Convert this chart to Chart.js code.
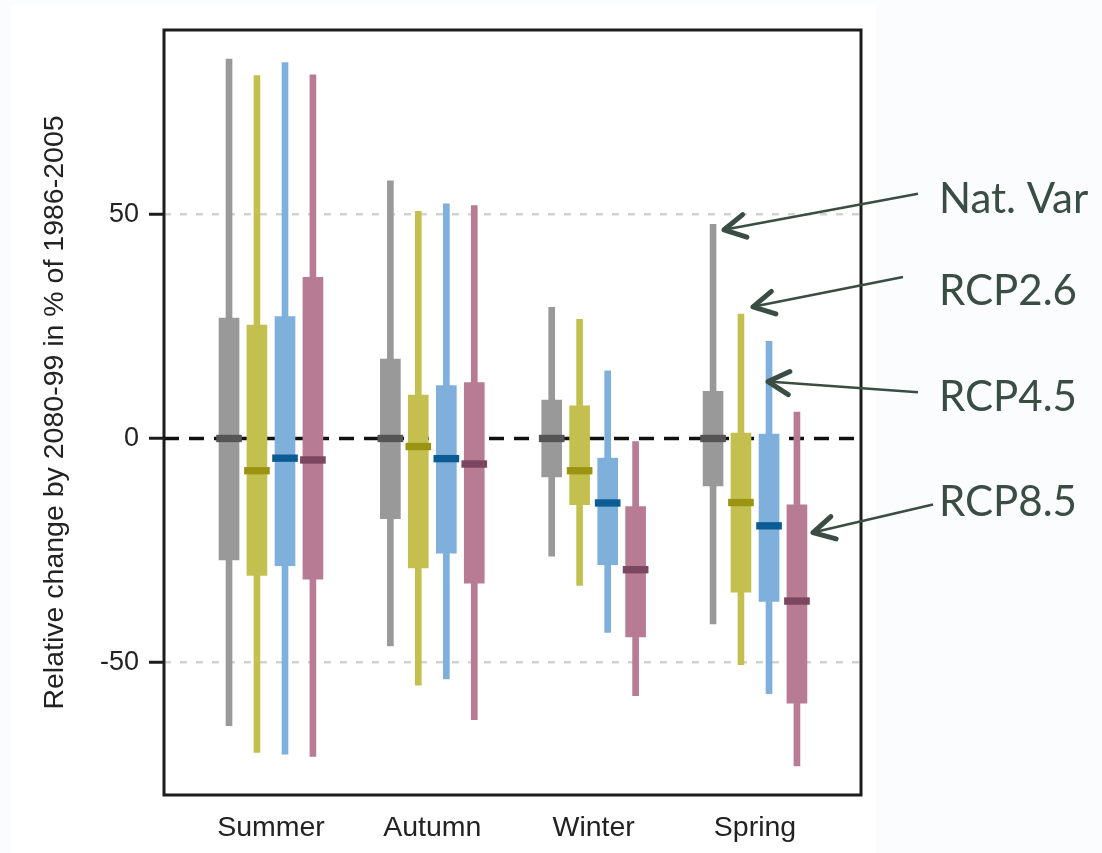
<!DOCTYPE html>
<html>
<head>
<meta charset="utf-8">
<script src="https://cdn.jsdelivr.net/npm/chart.js@4.4.1/dist/chart.umd.min.js"></script>
<style>
  html, body { margin: 0; padding: 0; background: #fbfcfe; }
  #wrap { width: 1102px; height: 853px; position: relative; }
</style>
</head>
<body>
<div id="wrap"><canvas id="c"></canvas></div>
<script>
// Seasons on the x axis
const seasons = ['Summer', 'Autumn', 'Winter', 'Spring'];
const seriesNames = ['Nat. Var', 'RCP2.6', 'RCP4.5', 'RCP8.5'];
const yTickValues = [-50, 0, 50];

// Relative change (%) per season: whisker low, box low, median, box high, whisker high
const natVarLow  = [-64.1, -46.3, -26.3, -41.4];
const natVarQ1   = [-27.1, -17.9,  -8.6, -10.6];
const natVarMed  = [  0.0,   0.0,   0.0,   0.0];
const natVarQ3   = [ 26.9,  17.7,   8.6,  10.5];
const natVarHigh = [ 84.7,  57.5,  29.3,  47.8];

const rcp26Low  = [-70.1, -55.1, -32.8, -50.5];
const rcp26Q1   = [-30.6, -28.9, -14.8, -34.3];
const rcp26Med  = [ -7.2,  -1.8,  -7.2, -14.3];
const rcp26Q3   = [ 25.3,   9.7,   7.3,   1.2];
const rcp26High = [ 81.0,  50.7,  26.6,  27.8];

const rcp45Low  = [-70.5, -53.7, -43.3, -57.0];
const rcp45Q1   = [-28.4, -25.6, -28.2, -36.4];
const rcp45Med  = [ -4.4,  -4.5, -14.4, -19.5];
const rcp45Q3   = [ 27.2,  11.8,  -4.4,   1.0];
const rcp45High = [ 83.9,  52.4,  15.1,  21.7];

const rcp85Low  = [-71.0, -62.8, -57.4, -73.1];
const rcp85Q1   = [-31.4, -32.3, -44.3, -59.1];
const rcp85Med  = [ -4.8,  -5.7, -29.3, -36.3];
const rcp85Q3   = [ 36.0,  12.5, -15.2, -14.8];
const rcp85High = [ 81.2,  52.0,  -0.7,   5.9];

// Callout targets on the Spring group (values where each arrow points)
const calloutValues = [46.6, 29.4, 12.7, -21.0];
const calloutTextValues = [50.4, 29.8, 6.1, -17.4];

// ---- styling / layout ----
const seriesData = [
  { low: natVarLow, q1: natVarQ1, med: natVarMed, q3: natVarQ3, high: natVarHigh },
  { low: rcp26Low,  q1: rcp26Q1,  med: rcp26Med,  q3: rcp26Q3,  high: rcp26High },
  { low: rcp45Low,  q1: rcp45Q1,  med: rcp45Med,  q3: rcp45Q3,  high: rcp45High },
  { low: rcp85Low,  q1: rcp85Q1,  med: rcp85Med,  q3: rcp85Q3,  high: rcp85High }
];
const seriesOffset = [-0.26, -0.087, 0.087, 0.26];
const boxColors    = ['#999999', '#c4c050', '#7fb0dc', '#b87b94'];
const medianColors = ['#555555', '#9a9412', '#0b5c94', '#7a4660'];
const MEDIAN_HALF = 0.75;
const X_MIN = -0.663, X_MAX = 3.657;

const datasets = [];
seriesData.forEach((s, k) => {
  datasets.push({
    label: seriesNames[k] + ' range',
    data: seasons.map((_, i) => ({ x: i + seriesOffset[k], y: [s.low[i], s.high[i]] })),
    backgroundColor: boxColors[k], barThickness: 6, grouped: false, order: 5
  });
  datasets.push({
    label: seriesNames[k] + ' interquartile',
    data: seasons.map((_, i) => ({ x: i + seriesOffset[k], y: [s.q1[i], s.q3[i]] })),
    backgroundColor: boxColors[k], barThickness: 20, grouped: false, order: 4
  });
  datasets.push({
    label: seriesNames[k] + ' median',
    data: seasons.map((_, i) => ({ x: i + seriesOffset[k], y: [s.med[i] - MEDIAN_HALF, s.med[i] + MEDIAN_HALF] })),
    backgroundColor: medianColors[k], barThickness: 25, grouped: false, order: 3
  });
});
// zero reference line (behind the boxes)
datasets.push({
  type: 'line', label: 'zero',
  data: [{ x: X_MIN, y: 0 }, { x: X_MAX, y: 0 }],
  borderColor: '#111111', borderWidth: 3.5, borderDash: [15, 10],
  pointRadius: 0, order: 10
});

const pagePanel = {
  id: 'pagePanel',
  beforeDraw(chart) {
    const ctx = chart.ctx;
    ctx.save();
    ctx.fillStyle = '#fbfcfe';
    ctx.fillRect(0, 0, chart.width, chart.height);
    ctx.fillStyle = '#ffffff';
    ctx.fillRect(11, 5, 865, chart.height - 5);
    ctx.restore();
  }
};

const frame = {
  id: 'frame',
  afterDatasetsDraw(chart) {
    const { ctx, chartArea: a } = chart;
    ctx.save();
    ctx.strokeStyle = '#1c1c1c';
    ctx.lineWidth = 3;
    ctx.strokeRect(a.left, a.top, a.right - a.left, a.bottom - a.top);
    ctx.restore();
  }
};

// callout labels with arrows pointing at the Spring group
const callouts = {
  id: 'callouts',
  afterDraw(chart) {
    const { ctx, chartArea: a } = chart;
    const xs = chart.scales.x, ys = chart.scales.y;
    const tipDx = [11, 12, -1, 16];
    const tailOff = [[-21, -19], [-36, -28], [-21, -19], [-6, -12]];
    const textX = a.right + 78;
    ctx.save();
    ctx.fillStyle = '#3a4d43';
    ctx.strokeStyle = '#3a4d43';
    ctx.font = '42px Lato';
    ctx.textBaseline = 'alphabetic';
    ctx.textAlign = 'left';
    seriesNames.forEach((name, k) => {
      const baseY = ys.getPixelForValue(calloutTextValues[k]);
      ctx.fillText(name, textX, baseY);
      const tx = xs.getPixelForValue(3 + seriesOffset[k]) + tipDx[k];
      const ty = ys.getPixelForValue(calloutValues[k]);
      const sx = textX + tailOff[k][0], sy = baseY + tailOff[k][1];
      ctx.lineWidth = 2.5;
      ctx.lineCap = 'butt';
      ctx.beginPath(); ctx.moveTo(sx, sy); ctx.lineTo(tx, ty); ctx.stroke();
      const ang = Math.atan2(sy - ty, sx - tx);
      const len = 24, spread = 0.5;
      ctx.lineWidth = 5;
      ctx.lineCap = 'round';
      ctx.lineJoin = 'round';
      ctx.beginPath();
      ctx.moveTo(tx + len * Math.cos(ang + spread), ty + len * Math.sin(ang + spread));
      ctx.lineTo(tx, ty);
      ctx.lineTo(tx + len * Math.cos(ang - spread), ty + len * Math.sin(ang - spread));
      ctx.stroke();
    });
    ctx.restore();
  }
};

new Chart(document.getElementById('c'), {
  type: 'bar',
  data: { datasets },
  plugins: [pagePanel, frame, callouts],
  options: {
    responsive: true,
    maintainAspectRatio: false,
    animation: false,
    layout: { padding: { left: 0, right: 241, top: 30, bottom: 0 } },
    plugins: { legend: { display: false }, tooltip: { enabled: false } },
    scales: {
      x: {
        type: 'linear',
        offset: false,
        min: X_MIN, max: X_MAX,
        grid: { display: false, drawTicks: false, offset: false },
        border: { display: false },
        afterBuildTicks: (scale) => { scale.ticks = seasons.map((_, i) => ({ value: i })); },
        afterFit: (scale) => { scale.height = 58; },
        ticks: {
          autoSkip: false, maxRotation: 0,
          padding: 16,
          color: '#222222',
          font: { family: 'Liberation Sans', size: 28.5 },
          callback: (v) => seasons[Math.round(v)]
        }
      },
      y: {
        min: -79.6, max: 91.2,
        afterBuildTicks: (scale) => { scale.ticks = yTickValues.map(v => ({ value: v })); },
        afterFit: (scale) => { scale.width = 164; },
        grid: {
          color: (c) => (c.tick && c.tick.value === 0) ? 'rgba(0,0,0,0)' : '#d3d3d3',
          lineWidth: 2.5,
          tickColor: '#1c1c1c', tickWidth: 3, tickLength: 15
        },
        border: { display: false, dash: [7, 9] },
        ticks: {
          padding: 10,
          color: '#222222',
          font: { family: 'Liberation Sans', size: 27 }
        },
        title: {
          display: true,
          text: 'Relative change by 2080-99 in % of 1986-2005',
          color: '#222222',
          font: { family: 'Liberation Sans', size: 28.5 },
          padding: { top: 38, bottom: 0 }
        }
      }
    }
  }
});
</script>
</body>
</html>
